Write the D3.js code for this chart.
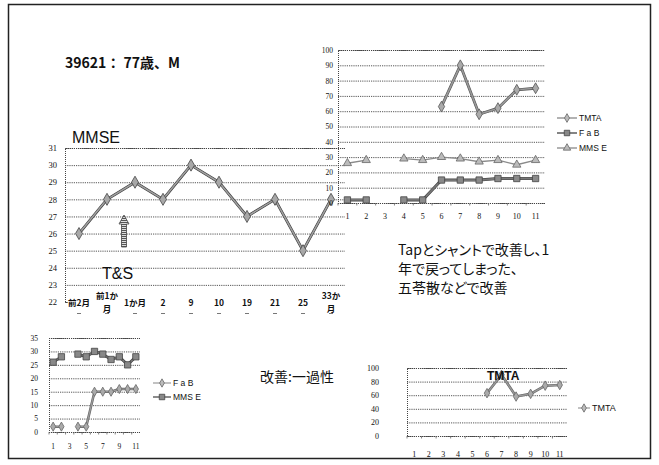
<!DOCTYPE html>
<html><head><meta charset="utf-8">
<script src="https://cdn.jsdelivr.net/npm/d3@7"></script>
<style>
html,body{margin:0;padding:0;background:#fff;}
svg{display:block;}
text{font-family:"Noto Sans CJK JP","Noto Sans",sans-serif;fill:#111;}
.num{font-family:"Liberation Serif","DejaVu Serif",serif;}
.lat{font-family:"Liberation Sans",Arial,sans-serif;}
</style></head><body>
<svg id="slide" width="659" height="465"></svg>
<script>
// MMSE across the follow-up period
const mmseMonths = ["前2月","前1か月","1か月","2","9","10","19","21","25","33か月"];
const mmseScores = [26,28,29,28,30,29,27,28,25,28];
const mmseTicks = [22,23,24,25,26,27,28,29,30,31];

// Scores per visit (1–11); null = not tested at that visit
const visits = ["1","2","3","4","5","6","7","8","9","10","11"];
const oddVisits = ["1","3","5","7","9","11"];
const tmtaScores = [null,null,null,null,null,63,90,58,62,74,75];
const fabScores  = [2,2,null,2,2,15,15,15,16,16,16];
const mmseByVisit = [26,28,null,29,28,30,29,27,28,25,28];

const ticks0to100by10 = [0,10,20,30,40,50,60,70,80,90,100];
const ticks0to35by5 = [0,5,10,15,20,25,30,35];
const ticks0to100by20 = [0,20,40,60,80,100];

const svg = d3.select("#slide");

// slide frame
svg.append("rect").attr("x",8.5).attr("y",4.5).attr("width",642).attr("height",454)
  .attr("fill","#fff").attr("stroke","#222").attr("stroke-width",1.5);

const markerPath = {
  diamond: s => d3.symbol(d3.symbolDiamond, s)(),
  square: s => d3.symbol(d3.symbolSquare, s)(),
  triangle: s => d3.symbol(d3.symbolTriangle, s)()
};

// one line chart panel: dotted grid, category axis, series with markers
function panel(o) {
  const g = svg.append("g");
  const x = d3.scaleBand().domain(o.cats).range([o.left, o.right]);
  const y = d3.scaleLinear().domain(o.yDomain).range([o.bottom, o.top]);

  const ya = g.append("g").attr("transform",`translate(${o.left},0)`)
    .call(d3.axisLeft(y).tickValues(o.yTicks).tickSize(-(o.right-o.left)).tickPadding(o.yPad)
      .tickFormat(d3.format("d")));
  ya.select(".domain").attr("stroke","#444").attr("stroke-dasharray","1,1");
  ya.selectAll(".tick line").attr("stroke","#444").attr("stroke-width",0.9).attr("stroke-dasharray","1.2,1");
  ya.selectAll(".tick text").attr("class","num").attr("font-size",o.yFont).attr("fill","#222");

  if (o.xLabels) {
    const xa = g.append("g").attr("transform",`translate(0,${o.bottom})`)
      .call(d3.axisBottom(x).tickValues(o.xLabels).tickSize(0).tickPadding(o.xPad));
    xa.select(".domain").remove();
    xa.selectAll(".tick text").attr("class","num").attr("font-size",o.xFont).attr("fill","#222");
    // small tick marks along the category axis
    g.selectAll(null).data(o.cats).join("line")
      .attr("x1",d=>x(d)).attr("x2",d=>x(d))
      .attr("y1",o.bottom).attr("y2",o.bottom+2.5)
      .attr("stroke","#666").attr("stroke-width",0.8);
  }

  o.series.forEach(s => {
    const pts = s.values.map((v,i)=>({c:o.cats[i], v}));
    const line = d3.line().defined(d=>d.v!=null)
      .x(d=>x(d.c)+x.bandwidth()/2).y(d=>y(d.v));
    if (s.under) g.append("path").datum(pts).attr("d",line).attr("fill","none")
      .attr("stroke",s.under).attr("stroke-width",s.width+1.2).attr("stroke-linejoin","round");
    g.append("path").datum(pts).attr("d",line).attr("fill","none")
      .attr("stroke",s.stroke).attr("stroke-width",s.width).attr("stroke-linejoin","round");
    g.selectAll(null).data(pts.filter(d=>d.v!=null)).join("path")
      .attr("d",markerPath[s.marker](s.size))
      .attr("transform",d=>`translate(${x(d.c)+x.bandwidth()/2},${y(d.v)})`)
      .attr("fill",s.fill).attr("stroke",s.edge).attr("stroke-width",0.8);
  });
  return {g,x,y};
}

function legend(x0, items, font) {
  items.forEach(it => {
    const g = svg.append("g");
    g.append("line").attr("x1",x0).attr("x2",x0+it.len).attr("y1",it.y).attr("y2",it.y)
      .attr("stroke",it.stroke).attr("stroke-width",it.width);
    g.append("path").attr("d",markerPath[it.marker](it.size))
      .attr("transform",`translate(${x0+it.len/2},${it.y})`)
      .attr("fill",it.fill).attr("stroke",it.edge).attr("stroke-width",0.8);
    g.append("text").attr("class","lat").attr("x",x0+it.len+2).attr("y",it.y+3)
      .attr("font-size",font).attr("fill","#333").text(it.label);
  });
}

// ---- main MMSE chart ----
const main = panel({
  cats: mmseMonths, left: 65, right: 345, top: 148, bottom: 302,
  yDomain: [22,31], yTicks: mmseTicks, yPad: 8, yFont: 8.5,
  series: [{values: mmseScores, marker:"diamond", size:42, stroke:"#a0a0a0", under:"#3a3a3a",
            width:1.6, fill:"#a8a8a8", edge:"#444"}]
});
// category labels (wrapped after three characters)
main.g.append("rect").attr("x",68).attr("y",291).attr("width",277).attr("height",24)
  .attr("fill","#fff");
mmseMonths.forEach(m => {
  const cx = main.x(m) + main.x.bandwidth()/2;
  const lines = m.length > 3 ? [m.slice(0,3), m.slice(3)] : [m];
  const t = main.g.append("text").attr("text-anchor","middle").attr("font-size",8.5)
    .attr("font-weight","bold").attr("fill","#222");
  lines.forEach((ln,i) => {
    t.append("tspan").attr("x",cx)
      .attr("y", lines.length===1 ? 305.5 : 299 + i*12.5).text(ln);
  });
  main.g.append("line").attr("x1",cx-2).attr("x2",cx+2).attr("y1",313.5).attr("y2",313.5)
    .attr("stroke","#777").attr("stroke-width",1);
});
svg.append("text").attr("class","lat").attr("x",72).attr("y",143).attr("font-size",16)
  .attr("fill","#111").text("MMSE");
svg.append("text").attr("class","lat").attr("x",102).attr("y",279).attr("font-size",16)
  .attr("fill","#111").text("T&S");

// hatched arrow marking the tap & shunt
const defs = svg.append("defs");
const pat = defs.append("pattern").attr("id","hatch").attr("width",4).attr("height",2)
  .attr("patternUnits","userSpaceOnUse");
pat.append("rect").attr("width",4).attr("height",2).attr("fill","#ddd");
pat.append("rect").attr("width",4).attr("height",1).attr("fill","#555");
const ax = (main.x(mmseMonths[1]) + main.x(mmseMonths[2]))/2 + main.x.bandwidth()/2 + 3;
svg.append("path")
  .attr("d",`M${ax-2.5},247 L${ax-2.5},224 L${ax-5},224 L${ax},215 L${ax+5},224 L${ax+2.5},224 L${ax+2.5},247 Z`)
  .attr("fill","url(#hatch)").attr("stroke","#444").attr("stroke-width",0.8);

// ---- per-visit chart (top right) ----
panel({
  cats: visits, left: 338, right: 545, top: 50, bottom: 203,
  yDomain: [0,100], yTicks: ticks0to100by10, yPad: 5, yFont: 7.5,
  xLabels: visits, xPad: 10, xFont: 8,
  series: [
    {values: tmtaScores, marker:"diamond", size:34, stroke:"#9a9a9a", under:"#555", width:1.6, fill:"#aaa", edge:"#555"},
    {values: fabScores, marker:"square", size:40, stroke:"#777", under:"#444", width:1.8, fill:"#8a8a8a", edge:"#444"},
    {values: mmseByVisit, marker:"triangle", size:30, stroke:"#8a8a8a", width:1.4, fill:"#bbb", edge:"#666"}
  ]
});
legend(557, [
  {label:"TMTA", y:118, len:20, marker:"diamond", size:22, stroke:"#888", width:1.3, fill:"#bbb", edge:"#666"},
  {label:"F a B", y:133, len:20, marker:"square", size:30, stroke:"#666", width:1.6, fill:"#888", edge:"#444"},
  {label:"MMS E", y:148, len:20, marker:"triangle", size:24, stroke:"#888", width:1.3, fill:"#bbb", edge:"#666"}
], 8.5);

// ---- FaB / MMSE (bottom left) ----
panel({
  cats: visits, left: 49, right: 140, top: 338, bottom: 432,
  yDomain: [0,35], yTicks: ticks0to35by5, yPad: 11, yFont: 7.5,
  xLabels: oddVisits, xPad: 12, xFont: 7.5,
  series: [
    {values: fabScores, marker:"diamond", size:24, stroke:"#9a9a9a", under:"#666", width:1.3, fill:"#aaa", edge:"#666"},
    {values: mmseByVisit, marker:"square", size:40, stroke:"#777", under:"#444", width:1.6, fill:"#888", edge:"#444"}
  ]
});
legend(153, [
  {label:"F a B", y:383, len:18, marker:"diamond", size:20, stroke:"#999", width:1.2, fill:"#bbb", edge:"#666"},
  {label:"MMS E", y:397, len:18, marker:"square", size:30, stroke:"#666", width:1.5, fill:"#888", edge:"#444"}
], 8.5);

// ---- TMTA (bottom right) ----
panel({
  cats: visits, left: 407, right: 567, top: 368, bottom: 436,
  yDomain: [0,100], yTicks: ticks0to100by20, yPad: 28, yFont: 8,
  xLabels: visits, xPad: 15, xFont: 8,
  series: [
    {values: tmtaScores, marker:"diamond", size:26, stroke:"#9a9a9a", under:"#666", width:1.4, fill:"#aaa", edge:"#666"}
  ]
});
legend(578, [
  {label:"TMTA", y:408, len:12, marker:"diamond", size:20, stroke:"#999", width:1.2, fill:"#bbb", edge:"#666"}
], 9);
svg.append("text").attr("class","lat").attr("x",487).attr("y",380).attr("font-size",12)
  .attr("font-weight","bold").attr("fill","#111").text("TMTA");

// ---- text blocks ----
svg.append("text").attr("x",65).attr("y",68).attr("font-size",14).attr("font-weight","bold")
  .attr("fill","#111").text("39621： 77歳、M");

const note = svg.append("text").attr("font-size",14).attr("fill","#111")
  .style("font-feature-settings","'palt'");
["Tapとシャントで改善し、1","年で戻ってしまった、","五苓散などで改善"].forEach((ln,i) =>
  note.append("tspan").attr("x",398).attr("y",255+i*19).text(ln));

svg.append("text").attr("x",260).attr("y",382).attr("font-size",14).attr("fill","#111")
  .text("改善:一過性");
</script>
</body></html>
